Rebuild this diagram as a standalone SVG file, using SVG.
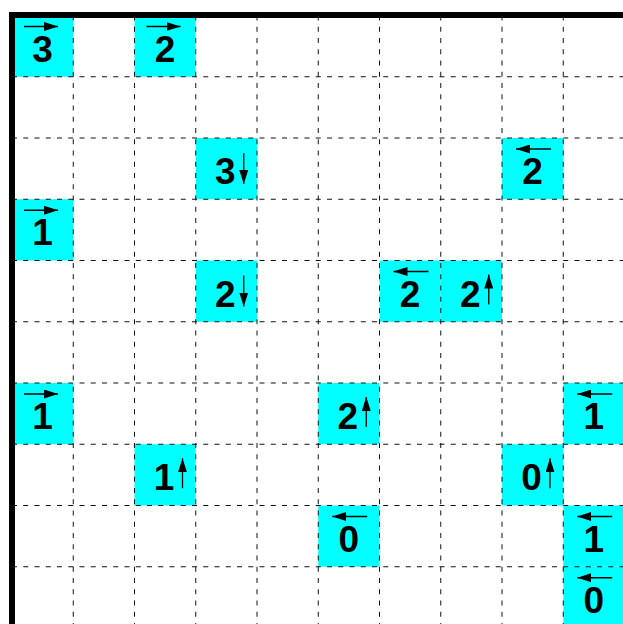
<svg xmlns="http://www.w3.org/2000/svg" width="623" height="624" viewBox="0 0 623 624">
  <defs>
    <style>
      .cell { fill: #00ffff; }
      .num { font-family: "Liberation Sans", Arial, sans-serif; font-weight: bold; font-size: 37px; fill: #000; text-anchor: middle; }
      .arr { stroke: #000; stroke-width: 1.3; fill: none; marker-end: url(#head); }
      .grid line { stroke: #111; stroke-width: 1; stroke-dasharray: 5 6.25; }
      .border { stroke: #000; stroke-width: 6; }
    </style>
    <marker id="head" markerUnits="userSpaceOnUse" markerWidth="14" markerHeight="9" refX="14" refY="4.5" orient="auto">
      <path d="M0,0 L14,4.5 L0,9 z" fill="#000"/>
    </marker>
  </defs>
  <rect width="623" height="624" fill="#fff"/>

  <g id="n-r0c0" transform="translate(12,15.5)"><rect class="cell" width="61.25" height="61.25"/><text class="num" x="30.6" y="46">3</text><line class="arr" x1="12" y1="11" x2="46" y2="11"/></g>
  <g id="n-r0c2" transform="translate(134.5,15.5)"><rect class="cell" width="61.25" height="61.25"/><text class="num" x="30.6" y="46">2</text><line class="arr" x1="12" y1="11" x2="46" y2="11"/></g>
  <g id="n-r2c3" transform="translate(195.75,138)"><rect class="cell" width="61.25" height="61.25"/><text class="num" x="29.5" y="46">3</text><line class="arr" x1="48" y1="15" x2="48" y2="46"/></g>
  <g id="n-r2c8" transform="translate(502,138)"><rect class="cell" width="61.25" height="61.25"/><text class="num" x="30.6" y="46">2</text><line class="arr" x1="49" y1="11" x2="14" y2="11"/></g>
  <g id="n-r3c0" transform="translate(12,199.25)"><rect class="cell" width="61.25" height="61.25"/><text class="num" x="30.6" y="46">1</text><line class="arr" x1="12" y1="11" x2="46" y2="11"/></g>
  <g id="n-r4c3" transform="translate(195.75,260.5)"><rect class="cell" width="61.25" height="61.25"/><text class="num" x="29.5" y="46">2</text><line class="arr" x1="48" y1="15" x2="48" y2="46"/></g>
  <g id="n-r4c6" transform="translate(379.5,260.5)"><rect class="cell" width="61.25" height="61.25"/><text class="num" x="30.6" y="46">2</text><line class="arr" x1="49" y1="11" x2="14" y2="11"/></g>
  <g id="n-r4c7" transform="translate(440.75,260.5)"><rect class="cell" width="61.25" height="61.25"/><text class="num" x="29.5" y="46">2</text><line class="arr" x1="48" y1="44" x2="48" y2="14"/></g>
  <g id="n-r6c0" transform="translate(12,383)"><rect class="cell" width="61.25" height="61.25"/><text class="num" x="30.6" y="46">1</text><line class="arr" x1="12" y1="11" x2="46" y2="11"/></g>
  <g id="n-r6c5" transform="translate(318.25,383)"><rect class="cell" width="61.25" height="61.25"/><text class="num" x="29.5" y="46">2</text><line class="arr" x1="48" y1="44" x2="48" y2="14"/></g>
  <g id="n-r6c9" transform="translate(563.25,383)"><rect class="cell" width="61.25" height="61.25"/><text class="num" x="30.6" y="46">1</text><line class="arr" x1="49" y1="11" x2="14" y2="11"/></g>
  <g id="n-r7c2" transform="translate(134.5,444.25)"><rect class="cell" width="61.25" height="61.25"/><text class="num" x="29.5" y="46">1</text><line class="arr" x1="48" y1="44" x2="48" y2="14"/></g>
  <g id="n-r7c8" transform="translate(502,444.25)"><rect class="cell" width="61.25" height="61.25"/><text class="num" x="29.5" y="46">0</text><line class="arr" x1="48" y1="44" x2="48" y2="14"/></g>
  <g id="n-r8c5" transform="translate(318.25,505.5)"><rect class="cell" width="61.25" height="61.25"/><text class="num" x="30.6" y="46">0</text><line class="arr" x1="49" y1="11" x2="14" y2="11"/></g>
  <g id="n-r8c9" transform="translate(563.25,505.5)"><rect class="cell" width="61.25" height="61.25"/><text class="num" x="30.6" y="46">1</text><line class="arr" x1="49" y1="11" x2="14" y2="11"/></g>
  <g id="n-r9c9" transform="translate(563.25,566.75)"><rect class="cell" width="61.25" height="61.25"/><text class="num" x="30.6" y="46">0</text><line class="arr" x1="49" y1="11" x2="14" y2="11"/></g>

  <g id="connectors" class="grid">
    <line x1="73.25" y1="15.5" x2="73.25" y2="624"/>
    <line x1="134.5" y1="15.5" x2="134.5" y2="624"/>
    <line x1="195.75" y1="15.5" x2="195.75" y2="624"/>
    <line x1="257" y1="15.5" x2="257" y2="624"/>
    <line x1="318.25" y1="15.5" x2="318.25" y2="624"/>
    <line x1="379.5" y1="15.5" x2="379.5" y2="624"/>
    <line x1="440.75" y1="15.5" x2="440.75" y2="624"/>
    <line x1="502" y1="15.5" x2="502" y2="624"/>
    <line x1="563.25" y1="15.5" x2="563.25" y2="624"/>
    <line x1="12" y1="76.75" x2="623" y2="76.75"/>
    <line x1="12" y1="138" x2="623" y2="138"/>
    <line x1="12" y1="199.25" x2="623" y2="199.25"/>
    <line x1="12" y1="260.5" x2="623" y2="260.5"/>
    <line x1="12" y1="321.75" x2="623" y2="321.75"/>
    <line x1="12" y1="383" x2="623" y2="383"/>
    <line x1="12" y1="444.25" x2="623" y2="444.25"/>
    <line x1="12" y1="505.5" x2="623" y2="505.5"/>
    <line x1="12" y1="566.75" x2="623" y2="566.75"/>
  </g>

  <g id="border">
    <line class="border" x1="12" y1="12" x2="12" y2="624"/>
    <line class="border" x1="9" y1="15" x2="623" y2="15"/>
  </g>
</svg>
